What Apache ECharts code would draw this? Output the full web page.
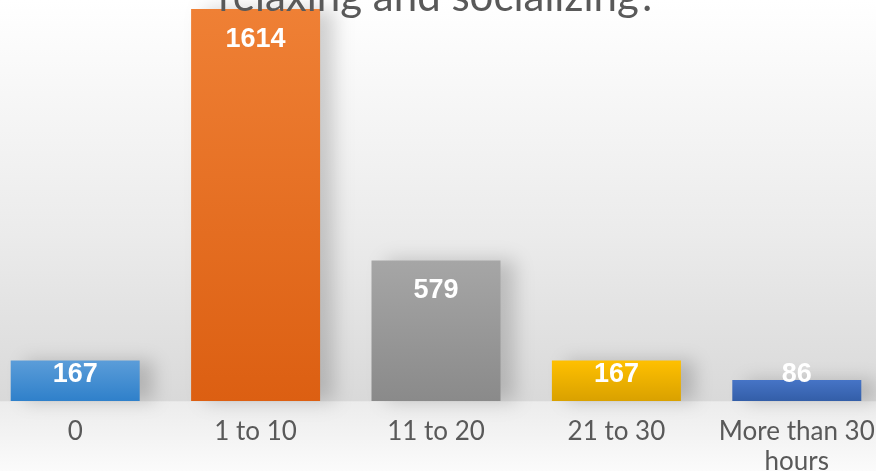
<!DOCTYPE html>
<html>
<head>
<meta charset="utf-8">
<script src="https://cdn.jsdelivr.net/npm/echarts@6/dist/echarts.min.js"></script>
<style>
	html, body { margin: 0; padding: 0; }
	#chart { width: 876px; height: 471px; }
</style>
</head>
<body>
<div id="chart"></div>
<script>
	// hours per week spent relaxing / socializing
	const categories = ['0', '1 to 10', '11 to 20', '21 to 30', 'More than 30\nhours'];
	const values = [167, 1614, 579, 167, 86];
	const topColors = ['#5b9dd9', '#ef8035', '#a6a6a6', '#ffc000', '#4674c6'];
	const bottomColors = ['#2f80ca', '#dc5f12', '#8a8a8a', '#d9a100', '#335ea8'];

	let chart = echarts.init(document.getElementById('chart'));

	let data = [];
	values.forEach((v, i) => {
		data.push({
			value: v,
			itemStyle: {
				color: new echarts.graphic.LinearGradient(0, 0, 0, 1, [
					{offset: 0, color: topColors[i]},
					{offset: 1, color: bottomColors[i]}
				])
			},
			// short bars: label sits at a fixed height above the base
			label: v < 300 ? {position: 'insideBottom', distance: 13} : {position: 'insideTop', distance: 17}
		});
	});

	const option = {
		backgroundColor: new echarts.graphic.LinearGradient(0, 0, 0, 1, [
			{offset: 0, color: '#ffffff'},
			{offset: 0.5, color: '#ebebeb'},
			{offset: 0.851, color: '#d9d9d9'},
			{offset: 0.853, color: '#ececec'},
			{offset: 1, color: '#fbfbfb'}
		]),
		title: {
			text: 'relaxing and socializing?',
			left: 'center',
			top: -29,
			textStyle: {
				color: '#595959',
				fontFamily: 'Lato',
				fontWeight: 'normal',
				fontSize: 42
			}
		},
		grid: {
			left: -15,
			right: -11,
			top: 9,
			bottom: 70,
			containLabel: false,
			outerBoundsMode: 'none'
		},
		xAxis: {
			type: 'category',
			data: categories,
			axisLine: {show: false},
			axisTick: {show: false},
			axisLabel: {
				interval: 0,
				color: '#595959',
				fontFamily: 'Lato',
				fontSize: 26,
				lineHeight: 30,
				margin: 16
			}
		},
		yAxis: {
			type: 'value',
			min: 0,
			max: 1614,
			show: false,
			splitLine: {show: false}
		},
		series: [
			{
				type: 'bar',
				barWidth: 129,
				data: data,
				itemStyle: {
					shadowColor: 'rgba(0, 0, 0, 0.18)',
					shadowBlur: 18,
					shadowOffsetX: 14,
					shadowOffsetY: 0
				},
				label: {
					show: true,
					color: '#ffffff',
					fontFamily: 'Liberation Sans',
					fontWeight: 'bold',
					fontSize: 27
				}
			}
		]
	};
	chart.setOption(option);
	window.addEventListener('resize', () => {
		chart.resize();
	});
</script>
</body>
</html>
